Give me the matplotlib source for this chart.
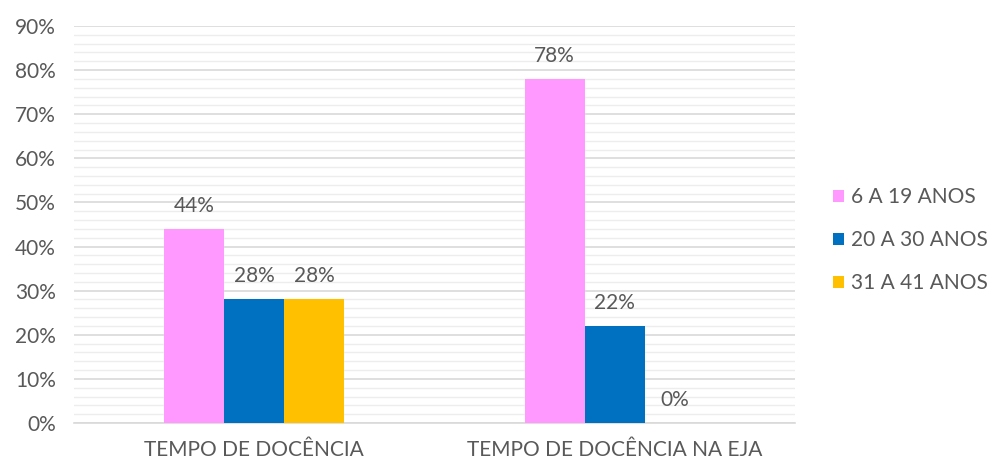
import numpy as np
import matplotlib.pyplot as plt
from matplotlib.ticker import MultipleLocator, PercentFormatter

categories = ["TEMPO DE DOCÊNCIA", "TEMPO DE DOCÊNCIA NA EJA"]
series = ["6 A 19 ANOS", "20 A 30 ANOS", "31 A 41 ANOS"]
values_6_19 = [0.44, 0.78]
values_20_30 = [0.28, 0.22]
values_31_41 = [0.28, 0.00]
colors = ["#FF99FF", "#0070C0", "#FFC000"]

plt.rcParams["font.family"] = ["Lato", "DejaVu Sans"]
text_color = "#595959"
fs = 15

fig = plt.figure(figsize=(9.94, 4.62), dpi=100)
ax = fig.add_axes([0.0744, 0.0844, 0.7254, 0.8593])

x = np.arange(len(categories))
width = 1 / 6
all_values = [values_6_19, values_20_30, values_31_41]

for i, (name, vals, color) in enumerate(zip(series, all_values, colors)):
    pos = x + (i - 1) * width
    bars = ax.bar(pos, vals, width, color=color, label=name, zorder=3)
    for b, v in zip(bars, vals):
        ax.text(
            b.get_x() + b.get_width() / 2,
            v + 0.03,
            f"{v * 100:.0f}%",
            ha="center",
            va="bottom",
            fontsize=fs,
            color=text_color,
        )

ax.set_xlim(-0.5, 1.5)
ax.set_ylim(0, 0.9)
ax.set_xticks(x)
ax.set_xticklabels(categories)
ax.yaxis.set_major_locator(MultipleLocator(0.1))
ax.yaxis.set_minor_locator(MultipleLocator(0.02))
ax.yaxis.set_major_formatter(PercentFormatter(1.0, decimals=0))

ax.grid(axis="y", which="major", color="#D9D9D9", linewidth=1.2, zorder=0)
ax.grid(axis="y", which="minor", color="#EDEDED", linewidth=1.0, zorder=0)

for side in ["top", "right", "left"]:
    ax.spines[side].set_visible(False)
ax.spines["bottom"].set_color("#D9D9D9")
ax.spines["bottom"].set_linewidth(1.2)

ax.tick_params(axis="both", which="both", length=0, labelsize=fs, colors=text_color)
ax.tick_params(axis="x", pad=12)
ax.tick_params(axis="y", pad=13)

fig.legend(
    loc="center left",
    bbox_to_anchor=(0.838, 0.48),
    borderaxespad=0,
    borderpad=0,
    frameon=False,
    fontsize=fs,
    labelcolor=text_color,
    handlelength=0.55,
    handleheight=0.55,
    handletextpad=0.3,
    labelspacing=1.1,
)

fig.savefig("out.png", dpi=100)
